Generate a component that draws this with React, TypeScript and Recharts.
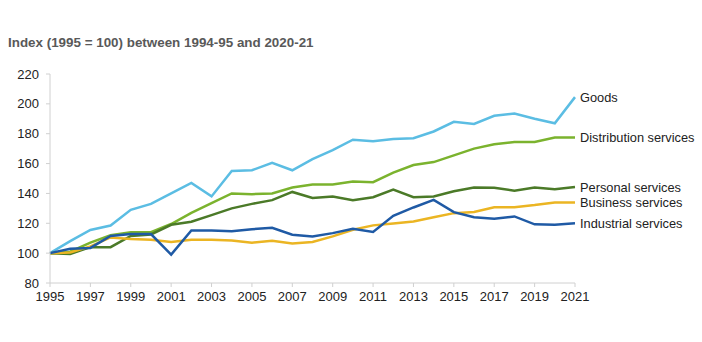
import { LineChart, Line, XAxis, YAxis } from "recharts";

const years = [
  1995, 1996, 1997, 1998, 1999, 2000, 2001, 2002, 2003, 2004, 2005, 2006, 2007,
  2008, 2009, 2010, 2011, 2012, 2013, 2014, 2015, 2016, 2017, 2018, 2019, 2020, 2021,
];

const goods = [
  100, 108, 115.5, 118.5, 129, 133, 140, 147, 138, 155, 155.5, 160.5, 155.5,
  163, 169, 176, 175, 176.5, 177, 181.5, 188, 186.5, 192, 193.5, 190, 187, 204.5,
];
const distribution = [
  100, 101, 107, 112, 114, 114, 119.5, 127, 133.5, 140, 139.5, 140, 144,
  146, 146, 148, 147.5, 154, 159, 161, 165.5, 170, 173, 174.5, 174.5, 177.5, 177.5,
];
const personal = [
  100, 99.5, 104, 104, 111.5, 112.5, 119, 121, 125.5, 130, 133, 135.5, 141,
  137, 138, 135.5, 137.5, 142.5, 137.5, 138, 141.5, 144, 143.8, 141.8, 144, 142.8, 144.3,
];
const business = [
  100, 100.5, 104.5, 110.5, 109.5, 109, 107.5, 109, 109, 108.5, 107, 108.3, 106.5,
  107.5, 111.2, 115.7, 118.6, 119.8, 121.2, 124, 126.8, 127.5, 130.8, 130.8, 132.2, 134, 134,
];
const industrial = [
  100, 103, 103.5, 111.5, 112.8, 112.8, 99, 115.2, 115.2, 114.7, 116, 117, 112.3,
  111.2, 113.4, 116.3, 114.2, 125, 130.6, 135.7, 127.5, 124, 123, 124.6, 119.3, 119, 120,
];

const xTicks = [1995, 1997, 1999, 2001, 2003, 2005, 2007, 2009, 2011, 2013, 2015, 2017, 2019, 2021];
const yTicks = [80, 100, 120, 140, 160, 180, 200, 220];

const series = [
  { key: "goods", name: "Goods", color: "#5BBDE3" },
  { key: "distribution", name: "Distribution services", color: "#7BB32E" },
  { key: "personal", name: "Personal services", color: "#4B7A28" },
  { key: "business", name: "Business services", color: "#EBB523" },
  { key: "industrial", name: "Industrial services", color: "#1F5AA5" },
];

const data = years.map((year, i) => ({
  year,
  goods: goods[i],
  distribution: distribution[i],
  personal: personal[i],
  business: business[i],
  industrial: industrial[i],
}));

const font = "'Liberation Sans', Arial, sans-serif";

const endLabel = (name: string) => (props: any) => {
  const { x, y, index } = props;
  if (index !== years.length - 1) return null;
  return (
    <text x={x + 5} y={y} dy={4.5} fontSize={12.8} fill="#222" fontFamily={font}>
      {name}
    </text>
  );
};

export default function App() {
  return (
    <div style={{ position: "absolute", left: 0, top: 0, width: 702, height: 342, background: "#fff" }}>
      <div
        style={{
          position: "absolute",
          left: 8,
          top: 35,
          fontFamily: font,
          fontWeight: "bold",
          fontSize: 13.4,
          color: "#595959",
        }}
      >
        Index (1995 = 100) between 1994-95 and 2020-21
      </div>
      <LineChart
        width={702}
        height={342}
        data={data}
        margin={{ top: 74, right: 127, bottom: 29, left: 8 }}
      >
        <XAxis
          dataKey="year"
          type="number"
          domain={[1995, 2021]}
          ticks={xTicks}
          height={30}
          stroke="#d0d0d0"
          tickSize={4}
          tickMargin={5}
          tick={{ fill: "#222", fontSize: 13, fontFamily: font }}
          interval={0}
        />
        <YAxis
          domain={[80, 220]}
          ticks={yTicks}
          width={42}
          stroke="#d0d0d0"
          tickSize={4}
          tickMargin={7}
          tick={{ fill: "#222", fontSize: 13, fontFamily: font }}
          interval={0}
        />
        {series.map((s) => (
          <Line
            key={s.key}
            dataKey={s.key}
            name={s.name}
            stroke={s.color}
            strokeWidth={2.5}
            dot={false}
            type="linear"
            isAnimationActive={false}
            label={endLabel(s.name)}
          />
        ))}
      </LineChart>
    </div>
  );
}
